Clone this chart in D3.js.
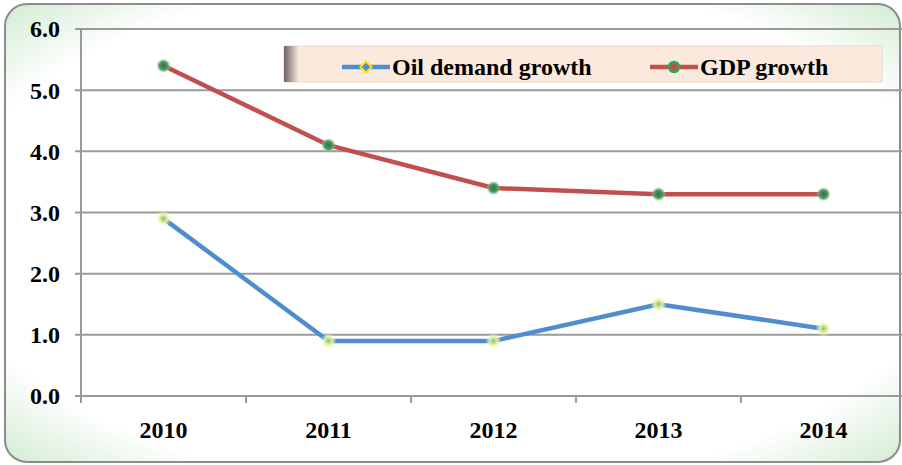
<!DOCTYPE html>
<head>
    <meta charset="utf-8">
    <style>
        body { margin: 0; background: #fff; }
        svg text { font-family: "Liberation Serif", "Times New Roman", Times, "DejaVu Serif", serif; font-weight: bold; fill: #000; }
    </style>
</head>
<svg width="902" height="465" class="line-chart"></svg>
<script src="https://cdn.jsdelivr.net/npm/d3@7/dist/d3.min.js"></script>
<script>
    const years = ['2010', '2011', '2012', '2013', '2014'];
    const oilDemand = [2.9, 0.9, 0.9, 1.5, 1.1];
    const gdpGrowth = [5.4, 4.1, 3.4, 3.3, 3.3];
    const yTicks = [0, 1, 2, 3, 4, 5, 6];
    const seriesNames = ['Oil demand growth', 'GDP growth'];

    var svg = d3.select(".line-chart");
    var defs = svg.append("defs");

    // frame: white centre, pale green towards the edges
    var rg = defs.append("radialGradient").attr("id", "frameFill")
            .attr("cx", "50%").attr("cy", "50%").attr("r", "72%");
    rg.append("stop").attr("offset", "0.78").attr("stop-color", "#ffffff");
    rg.append("stop").attr("offset", "1").attr("stop-color", "#cfeacf");

    var glowY = defs.append("radialGradient").attr("id", "glowY");
    glowY.append("stop").attr("offset", "0").attr("stop-color", "#7cc08a");
    glowY.append("stop").attr("offset", "0.45").attr("stop-color", "#e2ee9a");
    glowY.append("stop").attr("offset", "1").attr("stop-color", "#fbfbd0").attr("stop-opacity", 0);

    var glowG = defs.append("radialGradient").attr("id", "glowG");
    glowG.append("stop").attr("offset", "0").attr("stop-color", "#2f6f45");
    glowG.append("stop").attr("offset", "0.6").attr("stop-color", "#4f9a63");
    glowG.append("stop").attr("offset", "1").attr("stop-color", "#9fd3a8").attr("stop-opacity", 0.2);

    var shadow = defs.append("linearGradient").attr("id", "legShadow");
    shadow.append("stop").attr("offset", "0").attr("stop-color", "#6e6460");
    shadow.append("stop").attr("offset", "1").attr("stop-color", "#f3e1d6");

    svg.append("rect")
            .attr("x", 5).attr("y", 4).attr("width", 895).attr("height", 458)
            .attr("rx", 22).attr("ry", 22)
            .attr("fill", "url(#frameFill)")
            .attr("stroke", "#8c8c8c").attr("stroke-width", 2);

    var margin = {top: 29, left: 81},
            width = 825,
            height = 367;

    var x = d3.scaleBand().domain(years).range([0, width]),
            y = d3.scaleLinear().domain([0, 6]).range([height, 0]);

    var g = svg.append("g")
            .attr("transform", "translate(" + margin.left + "," + margin.top + ")");

    // gridlines
    g.selectAll(".grid")
            .data(yTicks)
            .enter().append("line")
            .attr("x1", -6).attr("x2", width)
            .attr("y1", d => y(d)).attr("y2", d => y(d))
            .attr("stroke", "#9a9a9a").attr("stroke-width", 2);

    // y axis line
    g.append("line")
            .attr("x1", 0).attr("x2", 0).attr("y1", 0).attr("y2", height)
            .attr("stroke", "#9a9a9a").attr("stroke-width", 2);

    g.selectAll(".ylab")
            .data(yTicks)
            .enter().append("text")
            .attr("x", -21).attr("y", d => y(d)).attr("dy", "0.35em")
            .attr("text-anchor", "end").style("font-size", "24px")
            .text(d => d.toFixed(1));

    // x ticks at band edges
    g.selectAll(".xtick")
            .data(years)
            .enter().append("line")
            .attr("x1", d => x(d)).attr("x2", d => x(d))
            .attr("y1", height).attr("y2", height + 7)
            .attr("stroke", "#9a9a9a").attr("stroke-width", 2);

    g.selectAll(".xlab")
            .data(years)
            .enter().append("text")
            .attr("x", d => x(d) + x.bandwidth() / 2)
            .attr("y", height + 42)
            .attr("text-anchor", "middle").style("font-size", "24px")
            .text(d => d);

    var line = d3.line()
            .x((d, i) => x(years[i]) + x.bandwidth() / 2)
            .y(d => y(d));

    g.append("path").datum(gdpGrowth).attr("d", line)
            .attr("fill", "none").attr("stroke", "#c0504d").attr("stroke-width", 4.5);
    g.append("path").datum(oilDemand).attr("d", line)
            .attr("fill", "none").attr("stroke", "#4f8dcf").attr("stroke-width", 4.5);

    g.selectAll(".gdpPt")
            .data(gdpGrowth)
            .enter().append("circle")
            .attr("cx", (d, i) => x(years[i]) + x.bandwidth() / 2)
            .attr("cy", d => y(d))
            .attr("r", 7).attr("fill", "url(#glowG)");

    g.selectAll(".oilPt")
            .data(oilDemand)
            .enter().append("circle")
            .attr("cx", (d, i) => x(years[i]) + x.bandwidth() / 2)
            .attr("cy", d => y(d))
            .attr("r", 8).attr("fill", "url(#glowY)");

    // legend
    var leg = svg.append("g").attr("transform", "translate(284,46)");
    leg.append("rect").attr("width", 598).attr("height", 36)
            .attr("fill", "#fce9dd").attr("stroke", "#eedacd");
    leg.append("rect").attr("width", 14).attr("height", 36).attr("fill", "url(#legShadow)");

    var items = [
        {name: seriesNames[0], x: 58, color: "#4f8dcf"},
        {name: seriesNames[1], x: 366, color: "#c0504d"}
    ];
    var it = leg.selectAll(".item").data(items).enter().append("g")
            .attr("transform", d => "translate(" + d.x + ",21)");
    it.append("line").attr("x1", 0).attr("x2", 48)
            .attr("stroke", d => d.color).attr("stroke-width", 4.5);
    it.append("text").attr("x", 50).attr("dy", "0.33em")
            .style("font-size", "24px").text(d => d.name);
    it.filter((d, i) => i === 0).append("rect")
            .attr("x", -4).attr("y", -4).attr("width", 8).attr("height", 8)
            .attr("transform", "translate(24,0) rotate(45)")
            .attr("fill", "#4f8dcf").attr("stroke", "#ffe600").attr("stroke-width", 2);
    it.filter((d, i) => i === 1).append("circle")
            .attr("cx", 24).attr("r", 5)
            .attr("fill", "#c0504d").attr("stroke", "#21b24e").attr("stroke-width", 2.5);
</script>
